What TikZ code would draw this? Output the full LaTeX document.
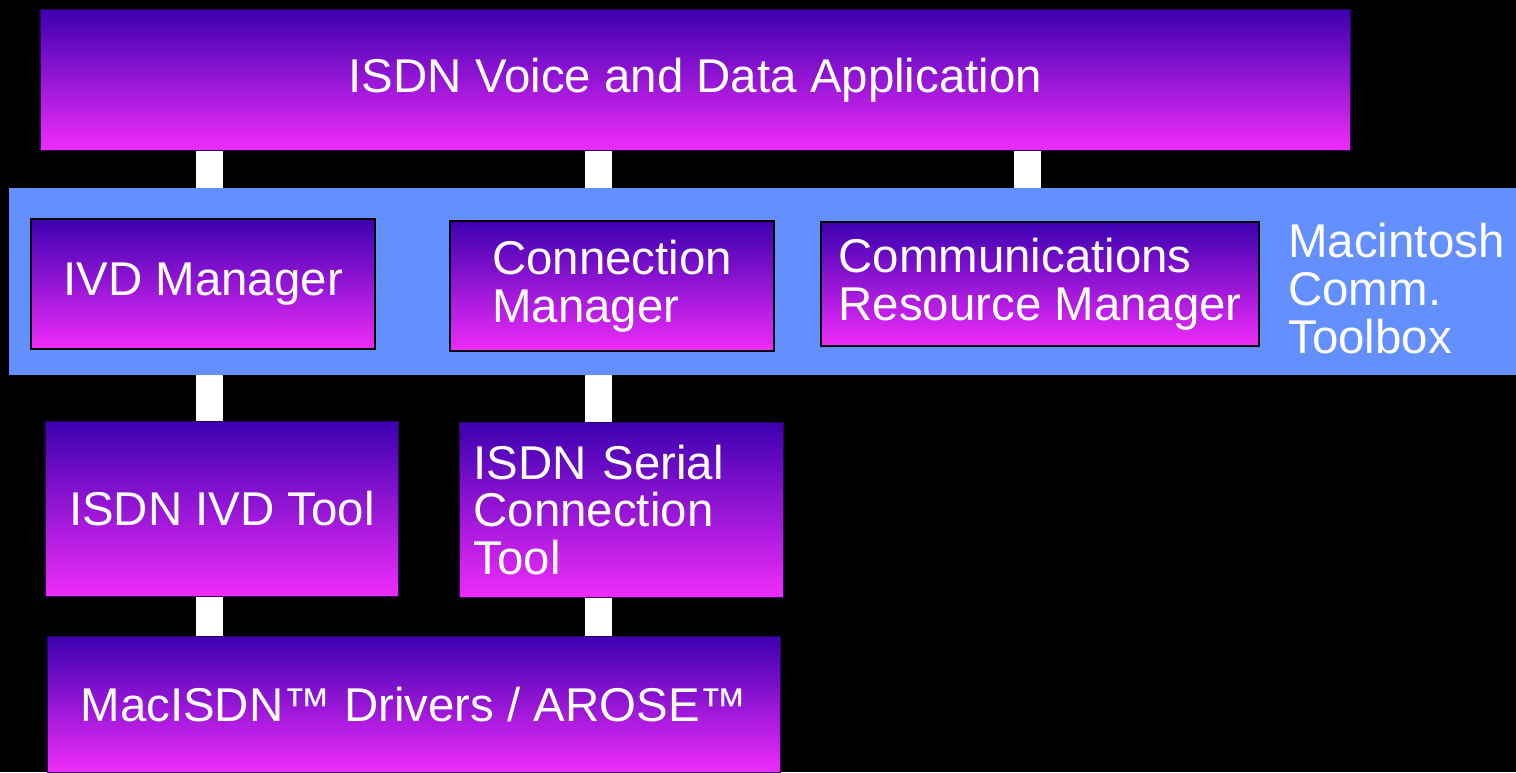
\documentclass[tikz,border=0pt]{standalone}
\usepackage{fontspec}
\setmainfont{Liberation Sans}
\usetikzlibrary{backgrounds}
\definecolor{boxtop}{RGB}{60,0,176}
\definecolor{boxbot}{RGB}{240,44,250}
\definecolor{tbxblue}{RGB}{100,144,255}
\definecolor{edgepurple}{RGB}{45,0,100}
\tikzset{
  layerbox/.style={rectangle, top color=boxtop, bottom color=boxbot,
    draw=edgepurple, line width=0.6pt, text=white, anchor=north west,
    font=\fontsize{27pt}{27.3pt}\selectfont, inner sep=0pt},
  tbxbox/.style={layerbox, draw=black, line width=1.4pt},
  bar/.style={white, line width=0.54cm},
}
\begin{document}
\begin{tikzpicture}[x=0.02cm,y=-0.02cm]
\useasboundingbox (0,0) rectangle (1516,772);
% application on top
\node[layerbox, minimum width=26.2cm, minimum height=2.82cm] (app) at (40,9) {ISDN Voice and Data Application};
% managers inside the toolbox band
\node[tbxbox, minimum width=6.88cm, minimum height=2.6cm] (ivdmgr) at (30,218) {IVD Manager};
\node[tbxbox, minimum width=6.48cm, minimum height=2.6cm, align=left] (connmgr) at (449,220) {Connection\\Manager};
\node[tbxbox, minimum width=8.76cm, minimum height=2.48cm, align=left] (crm) at (820,221) {Communications\\Resource Manager};
\node[anchor=north west, inner sep=0pt, text=white, align=left,
  font=\fontsize{27pt}{27.3pt}\selectfont] (mct) at (1288,223) {Macintosh\\Comm.\\Toolbox};
% tools
\node[layerbox, minimum width=7.06cm, minimum height=3.5cm] (ivdtool) at (45,421) {ISDN IVD Tool};
\node[layerbox, minimum width=6.48cm, minimum height=3.5cm, text width=5.92cm, align=left] (serial) at (459,422) {ISDN Serial\\Connection\\Tool};
% drivers
\node[layerbox, minimum width=14.66cm, minimum height=2.72cm] (drivers) at (47,636) {MacISDN™ Drivers / AROSE™};
\coordinate (c1) at (209.5,0);
\coordinate (c2) at (598.5,0);
\coordinate (c3) at (1027.5,0);
\begin{pgfonlayer}{background}
\fill[black] (0,0) rectangle (1516,772);
\draw[bar] (c1 |- app.south) -- (c1 |- ivdmgr.north);
\draw[bar] (c2 |- app.south) -- (c2 |- connmgr.north);
\draw[bar] (c3 |- app.south) -- (c3 |- crm.north);
\draw[bar] (c1 |- ivdmgr.south) -- (c1 |- ivdtool.north);
\draw[bar] (c2 |- connmgr.south) -- (c2 |- serial.north);
\draw[bar] (c1 |- ivdtool.south) -- (c1 |- drivers.north);
\draw[bar] (c2 |- serial.south) -- (c2 |- drivers.north);
% toolbox band
\fill[tbxblue] (9,188) rectangle (1516,375);
\end{pgfonlayer}
\end{tikzpicture}
\end{document}
